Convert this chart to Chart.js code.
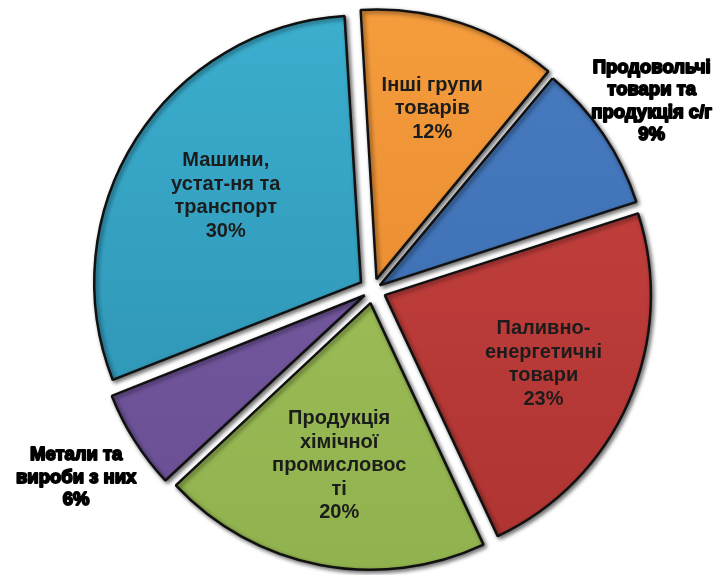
<!DOCTYPE html>
<html>
<head>
<meta charset="utf-8">
<script src="https://cdn.jsdelivr.net/npm/chart.js@4.4.0/dist/chart.umd.min.js"></script>
<style>
  html, body { margin: 0; padding: 0; background: #ffffff; }
  #wrap { width: 721px; height: 575px; }
</style>
</head>
<body>
<div id="wrap"><canvas id="pieChart" width="721" height="575"></canvas></div>
<script>
// Data
const categories = [
    ['Інші групи', 'товарів'],
    ['Продовольчі', 'товари та', 'продукція с/г'],
    ['Паливно-', 'енергетичні', 'товари'],
    ['Продукція', 'хімічної', 'промисловос', 'ті'],
    ['Метали та', 'вироби з них'],
    ['Машини,', 'устат-ня та', 'транспорт']
];
const shares = [12, 9, 23, 20, 6, 30];

// Look of the slices
const colorsTop = ['#f59d3d', '#477bc0', '#c94441', '#a3c35c', '#7d60a9', '#3cafcf'];
const colorsBottom = ['#e3822a', '#3a6aae', '#ad3331', '#90b24e', '#684d92', '#2b8dae'];
const sliceShift = [15, 12, 13, 14, 16, 15];   // how far each slice is pulled out, px
const labelRadius = [0.66, 1.22, 0.65, 0.62, 1.26, 0.6];

// Chart.js moves an arc by offset/4 * (1 + (1 - sin(circumference)))
const total = shares.reduce((a, b) => a + b, 0);
const arcOffsets = shares.map((v, i) => {
    const circ = v / total * Math.PI * 2;
    const fix = 1 - Math.sin(Math.min(Math.PI, circ));
    return 4 * sliceShift[i] / (1 + fix);
});

// Drop shadow around the slices
const sliceShadow = {
    id: 'sliceShadow',
    beforeDatasetDraw(chart) {
        const ctx = chart.ctx;
        ctx.save();
        ctx.shadowColor = 'rgba(0, 0, 0, 0.55)';
        ctx.shadowBlur = 4;
        ctx.shadowOffsetX = 2;
        ctx.shadowOffsetY = 2;
    },
    afterDatasetDraw(chart) {
        chart.ctx.restore();
    }
};

// Labels inside / beside each slice
const sliceLabels = {
    id: 'sliceLabels',
    afterDatasetsDraw(chart) {
        const ctx = chart.ctx;
        const meta = chart.getDatasetMeta(0);
        meta.data.forEach((arc, i) => {
            const p = arc.getProps(['x', 'y', 'startAngle', 'endAngle', 'outerRadius']);
            const mid = (p.startAngle + p.endAngle) / 2;
            const d = labelRadius[i] * p.outerRadius + sliceShift[i];
            const cx = p.x + Math.cos(mid) * d;
            const cy = p.y + Math.sin(mid) * d;
            const lines = categories[i].concat([shares[i] + '%']);
            const outside = labelRadius[i] > 1;
            const lh = outside ? 22.5 : 23.5;
            ctx.save();
            ctx.textAlign = 'center';
            ctx.textBaseline = 'middle';
            if (outside) {
                ctx.font = 'bold 18.5px "Liberation Sans", Arial, sans-serif';
                ctx.fillStyle = '#000000';
                ctx.strokeStyle = '#000000';
                ctx.lineWidth = 1.8;
                ctx.lineJoin = 'round';
            } else {
                ctx.font = 'bold 20px "Liberation Sans", Arial, sans-serif';
                ctx.fillStyle = '#1c1c1c';
            }
            const y0 = cy - (lines.length - 1) * lh / 2;
            lines.forEach((t, k) => {
                if (outside) ctx.strokeText(t, cx, y0 + k * lh);
                ctx.fillText(t, cx, y0 + k * lh);
            });
            ctx.restore();
        });
    }
};

function sliceGradient(context) {
    const i = context.dataIndex;
    const area = context.chart.chartArea;
    if (!area) return colorsTop[i];
    const g = context.chart.ctx.createLinearGradient(0, area.top, 0, area.bottom);
    g.addColorStop(0, colorsTop[i]);
    g.addColorStop(1, colorsBottom[i]);
    return g;
}

const ctx = document.getElementById('pieChart').getContext('2d');
const pieChart = new Chart(ctx, {
    type: 'pie',
    data: {
        labels: categories.map(c => c.join(' ')),
        datasets: [{
            data: shares,
            backgroundColor: sliceGradient,
            borderColor: '#111111',
            borderWidth: 2.5,
            offset: arcOffsets
        }]
    },
    options: {
        responsive: false,
        animation: false,
        rotation: -3.5,
        radius: 266,
        layout: { padding: { left: 25, right: 0, top: 5, bottom: 0 } },
        plugins: {
            legend: { display: false },
            tooltip: { enabled: false }
        }
    },
    plugins: [sliceShadow, sliceLabels]
});
</script>
</body>
</html>
